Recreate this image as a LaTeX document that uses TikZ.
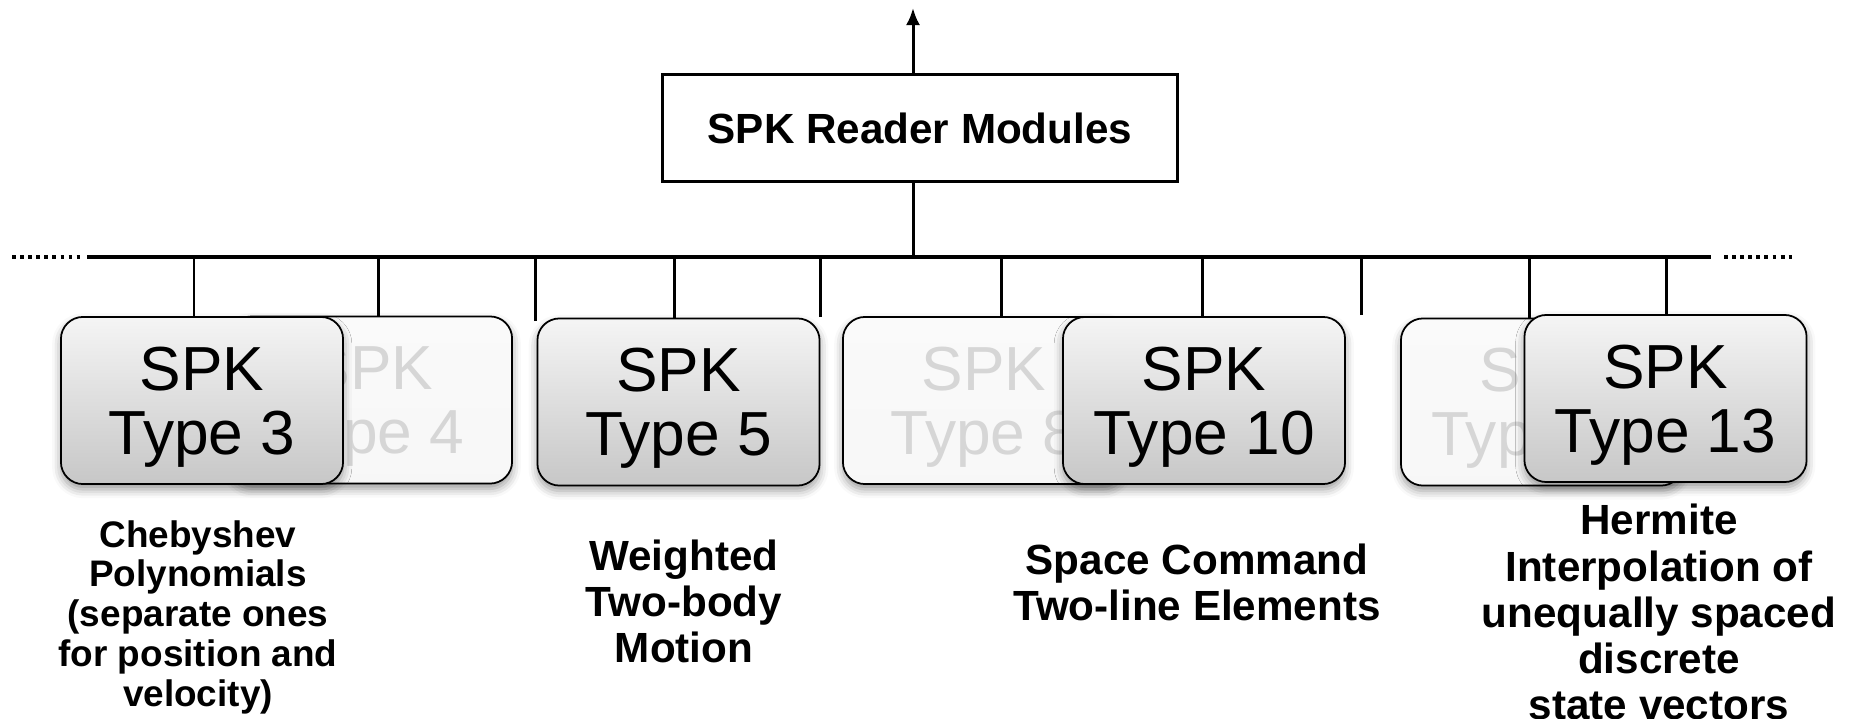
\documentclass[tikz,border=0pt]{standalone}
\usepackage{fontspec}
\setmainfont{Liberation Sans}
\usepackage{tikz}
\usetikzlibrary{positioning}
\usetikzlibrary{arrows.meta}
\usetikzlibrary{calc}
\usetikzlibrary{backgrounds}
\usetikzlibrary{shadows.blur}

\tikzset{
  module/.style={draw=black, line width=0.85pt, minimum width=5.14cm, minimum height=1.06cm,
    font=\bfseries\fontsize{12}{14}\selectfont},
  spk/.style={draw=black, line width=0.5pt, rounded corners=0.22cm, minimum width=2.82cm,
    minimum height=1.67cm, align=center, text depth=0pt, top color=black!4, bottom color=black!22,
    font=\fontsize{17.7}{18.3}\selectfont,
    blur shadow={shadow xshift=0pt, shadow yshift=-1.5pt, shadow blur radius=2.5pt, shadow opacity=40}},
  ghost/.style={spk, top color=black!2, bottom color=black!3, text=black!16},
  desc/.style={align=center, font=\bfseries\fontsize{12}{13.1}\selectfont},
  descsmall/.style={align=center, font=\bfseries\fontsize{10.5}{11.3}\selectfont},
  bus/.style={line width=1.15pt},
  busdots/.style={line width=1.1pt, dash pattern=on 1.1pt off 1.2pt},
  tick/.style={line width=0.85pt},
}

\begin{document}
\begin{tikzpicture}[x=0.01cm, y=-0.01cm]
  \useasboundingbox (0,0) rectangle (1858,718);

  % Define nodes
  \node[module] (reader) at (920,128) {SPK Reader Modules};

  \coordinate (busL) at (87,257);
  \coordinate (busR) at (1711,257);
  \coordinate (dotL) at (12,257);
  \coordinate (dotR) at (1792,257);
  \coordinate (up) at (913,8);

  \node[ghost] (g4) at (371,400) {SPK\\Type 4};
  \node[spk] (t3) at (202,400.5) {SPK\\Type 3};
  \node[spk] (t5) at (678.5,402) {SPK\\Type 5};
  \node[ghost] (g8) at (984,400.5) {SPK\\Type 8};
  \node[spk] (t10) at (1204,400.5) {SPK\\Type 10};
  \node[ghost] (g12) at (1542,402) {SPK\\Type 12};
  \node[spk] (t13) at (1665.5,398.5) {SPK\\Type 13};

  \coordinate (h1) at (535,321);
  \coordinate (h2) at (820,317);
  \coordinate (h3) at (1361,315);

  \node[descsmall] (cheb) at (198,617) {Chebyshev\\Polynomials\\(separate ones\\for position and\\velocity)};
  \node[desc] (twobody) at (684,601) {Weighted\\Two-body\\Motion};
  \node[desc] (tle) at (1197,582) {Space Command\\Two-line Elements};
  \node[desc] (hermite) at (1659,612) {Hermite\\Interpolation of\\unequally spaced\\discrete\\state vectors};

  % Connect the nodes
  \draw[line width=0.85pt, -{Latex[length=0.17cm, width=0.14cm]}] ([xshift=-0.07cm]reader.north) -- ([xshift=-0.07cm]reader.north |- up); %
  \draw[line width=0.85pt] ([xshift=-0.07cm]reader.south) -- ([xshift=-0.07cm]reader.south |- busL); %
  \draw[bus] (busL) -- (busR); %
  \draw[busdots] (dotL) -- ($(busL)+(-7,0)$); %
  \draw[busdots] ($(busR)+(13,0)$) -- (dotR); %

  \begin{scope}[on background layer]
    \foreach \b/\dx in {t3/-8, g4/7, t5/-4, g8/17, t10/-2, g12/-13, t13/1}
      \draw[tick] ($(\b.north)+(\dx,0)$) -- ($(\b.north |- busL)+(\dx,0)$); %
    \foreach \h in {h1, h2, h3}
      \draw[tick] (\h) -- (\h |- busL); %
  \end{scope}

\end{tikzpicture}
\end{document}
